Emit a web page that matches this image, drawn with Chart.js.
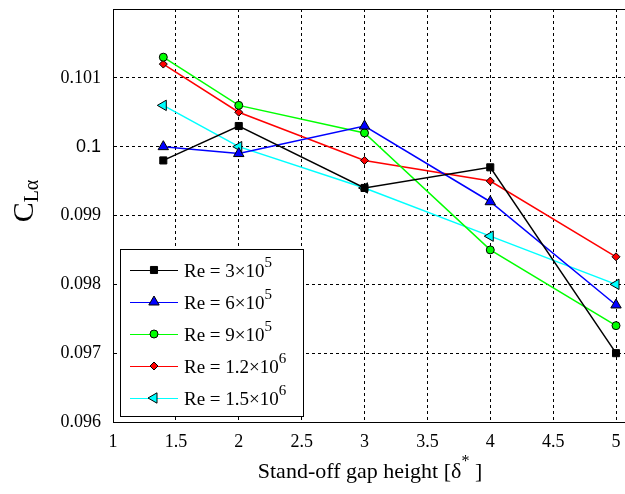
<!DOCTYPE html>
<html>
<head>
<meta charset="utf-8">
<script src="https://cdn.jsdelivr.net/npm/chart.js@4"></script>
<style>
html, body { margin: 0; padding: 0; background: #fff; overflow: hidden; }
#wrap { width: 640px; height: 494px; }
</style>
</head>
<body>
<div id="wrap"><canvas id="myChart"></canvas></div>
<script>
// data
const gapHeights = [1.4, 2, 3, 4, 5];
const re3e5 = [0.0998, 0.1003, 0.0994, 0.0997, 0.0970];
const re6e5 = [0.1000, 0.0999, 0.1003, 0.0992, 0.0977];
const re9e5 = [0.1013, 0.1006, 0.1002, 0.0985, 0.0974];
const re12e6 = [0.1012, 0.1005, 0.0998, 0.0995, 0.0984];
const re15e6 = [0.1006, 0.1000, 0.0994, 0.0987, 0.0980];
const reBase = ['Re = 3\u00d710', 'Re = 6\u00d710', 'Re = 9\u00d710', 'Re = 1.2\u00d710', 'Re = 1.5\u00d710'];
const reExp = ['5', '5', '5', '6', '6'];
const xTicks = [1, 1.5, 2, 2.5, 3, 3.5, 4, 4.5, 5];
const yTicks = [0.096, 0.097, 0.098, 0.099, 0.1, 0.101];

const serif = '"Liberation Serif", "Times New Roman", serif';

function pts(vals) {
    return gapHeights.map((x, i) => ({ x: x, y: vals[i] }));
}

function series(i, vals, color, style, radius, rot) {
    return {
        label: reBase[i] + reExp[i],
        data: pts(vals),
        borderColor: color,
        backgroundColor: color,
        pointBorderColor: '#000',
        pointBorderWidth: 1,
        pointStyle: style,
        pointRadius: radius,
        pointRotation: rot || 0,
        borderWidth: 1.5,
        tension: 0
    };
}

const datasets = [
    series(0, re3e5, '#000000', 'rect', 5),
    series(1, re6e5, '#0000ff', 'triangle', 6),
    series(2, re9e5, '#00ff00', 'circle', 4),
    series(3, re12e6, '#ff0000', 'rectRot', 4),
    series(4, re15e6, '#00ffff', 'triangle', 6, -90)
];

// frame, axis titles and the boxed legend inside the plot
const extras = {
    id: 'extras',
    afterDraw(chart) {
        const ctx = chart.ctx;
        const a = chart.chartArea;
        ctx.save();
        ctx.strokeStyle = '#000';
        ctx.lineWidth = 1;
        ctx.strokeRect(a.left + 0.5, a.top + 0.5, a.right - a.left, a.bottom - a.top);

        // x title
        ctx.fillStyle = '#000';
        ctx.textBaseline = 'alphabetic';
        ctx.textAlign = 'left';
        ctx.font = '22px ' + serif;
        const t1 = 'Stand-off gap height [\u03b4';
        const w1 = ctx.measureText(t1).width;
        ctx.font = '16px ' + serif;
        const ws = ctx.measureText('*').width;
        ctx.font = '22px ' + serif;
        const w2 = ctx.measureText(' ]').width;
        let x0 = 370 - (w1 + ws + w2) / 2;
        ctx.fillText(t1, x0, 478);
        ctx.font = '16px ' + serif;
        ctx.fillText('*', x0 + w1, 466);
        ctx.font = '22px ' + serif;
        ctx.fillText(' ]', x0 + w1 + ws, 478);

        // y title
        ctx.save();
        ctx.translate(33, 201);
        ctx.rotate(-Math.PI / 2);
        ctx.font = '30px ' + serif;
        const wc = ctx.measureText('C').width;
        ctx.font = '20px ' + serif;
        const wl = ctx.measureText('L\u03b1').width;
        ctx.font = '30px ' + serif;
        ctx.fillText('C', -(wc + wl) / 2, 0);
        ctx.font = '20px ' + serif;
        ctx.fillText('L\u03b1', -(wc + wl) / 2 + wc, 5);
        ctx.restore();

        // legend
        const lx = 120, ly = 249, lw = 183, lh = 167;
        ctx.fillStyle = '#fff';
        ctx.fillRect(lx, ly, lw, lh);
        ctx.strokeStyle = '#000';
        ctx.strokeRect(lx + 0.5, ly + 0.5, lw, lh);
        chart.data.datasets.forEach((ds, i) => {
            const yy = 270 + i * 32;
            ctx.strokeStyle = ds.borderColor;
            ctx.lineWidth = 1;
            ctx.beginPath();
            ctx.moveTo(130, yy + 0.5);
            ctx.lineTo(178, yy + 0.5);
            ctx.stroke();
            ctx.fillStyle = ds.backgroundColor;
            ctx.strokeStyle = '#000';
            Chart.helpers.drawPoint(ctx, {
                pointStyle: ds.pointStyle,
                radius: ds.pointRadius,
                rotation: ds.pointRotation,
                borderWidth: 1
            }, 154, yy);
            ctx.fillStyle = '#000';
            ctx.font = '19px ' + serif;
            ctx.textAlign = 'left';
            ctx.fillText(reBase[i], 184, yy + 7);
            const wb = ctx.measureText(reBase[i]).width;
            ctx.font = '15px ' + serif;
            ctx.fillText(reExp[i], 184 + wb, yy - 3);
        });
        ctx.restore();
    }
};

function noPad(scale) {
    scale.paddingTop = 0;
    scale.paddingRight = 0;
}

const myChart = new Chart(document.getElementById('myChart'), {
    type: 'line',
    data: { datasets: datasets },
    plugins: [extras],
    options: {
        responsive: true,
        maintainAspectRatio: false,
        animation: false,
        layout: { padding: { top: 9, right: 0, left: 0, bottom: 0 } },
        plugins: { legend: { display: false }, tooltip: { enabled: false } },
        scales: {
            x: {
                type: 'linear',
                min: 1,
                max: 5.135,
                afterFit(scale) { scale.height = 72; noPad(scale); },
                afterBuildTicks(scale) {
                    scale.ticks = xTicks.map(v => ({ value: v }));
                },
                grid: { color: '#000', drawTicks: false, lineWidth: 1 },
                border: { display: true, color: '#000', dash: [3, 3] },
                ticks: {
                    color: '#000',
                    padding: 9,
                    maxRotation: 0,
                    font: { family: serif, size: 18 },
                    callback: v => String(v)
                }
            },
            y: {
                type: 'linear',
                min: 0.096,
                max: 0.102,
                afterFit(scale) { scale.width = 113; noPad(scale); },
                afterBuildTicks(scale) {
                    scale.ticks = yTicks.concat([0.102]).map(v => ({ value: v }));
                },
                grid: { color: '#000', drawTicks: false, lineWidth: 1 },
                border: { display: true, color: '#000', dash: [3, 3] },
                ticks: {
                    color: '#000',
                    padding: 12,
                    font: ctx => (ctx.tick && Math.abs(ctx.tick.value - 0.1) < 1e-9)
                        ? { family: '"Liberation Sans", Arial, sans-serif', size: 18 }
                        : { family: serif, size: 18 },
                    callback: v => (v > 0.1015 ? '' : String(+v.toFixed(3)))
                }
            }
        }
    }
});
</script>
</body>
</html>
